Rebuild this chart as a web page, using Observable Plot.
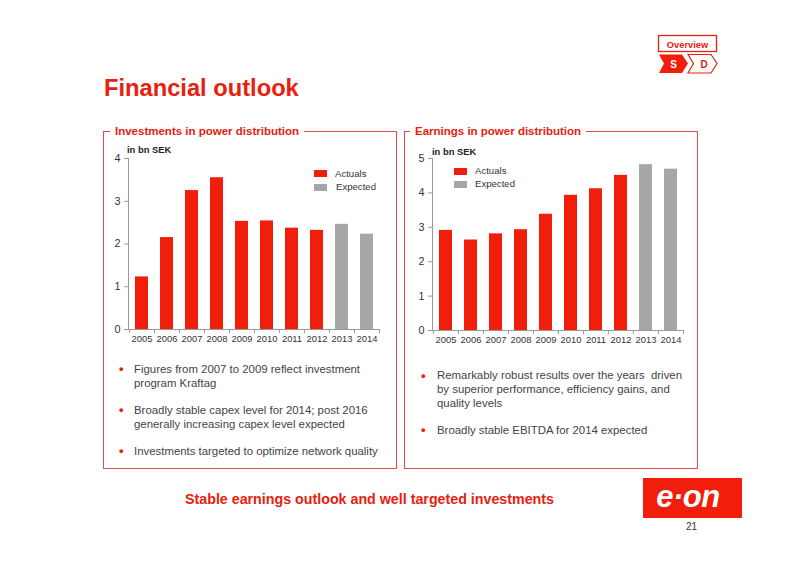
<!DOCTYPE html>
<html><head><meta charset="utf-8">
<script src="https://cdn.jsdelivr.net/npm/d3@7"></script>
<script src="https://cdn.jsdelivr.net/npm/@observablehq/plot@0.6"></script>
<style>
html,body{margin:0;padding:0;background:#fff;width:800px;height:565px;overflow:hidden;font-family:"Liberation Sans",Arial,sans-serif;color:#333}
.a{position:absolute;white-space:nowrap}
.title{left:104px;top:72px;font-size:23.7px;font-weight:bold;color:#e8200e;line-height:32px}
.panel{position:absolute;top:131px;height:336px;border:1px solid #e64a4f;box-sizing:content-box}
.head{top:124px;font-size:11.5px;font-weight:bold;color:#e8200e;background:#fff;padding:0 5px;line-height:15px}
.unit{font-size:9.4px;font-weight:bold;color:#222;line-height:12px}
.sw{position:absolute;width:13px;height:7px}
.lg{font-size:9.6px;line-height:12px;color:#333}
.t{font-size:11.4px;line-height:14px;color:#444}
.b{color:#e8200e;font-size:13px;line-height:14px;font-weight:bold}
.plot{position:absolute}
.plot svg{display:block}
</style></head><body>
<div class="a title">Financial outlook</div>
<svg class="a" style="left:655px;top:32px" width="66" height="44">
 <rect x="3.5" y="3.5" width="58" height="16" fill="#fff" stroke="#e8200e" stroke-width="1.3"/>
 <text x="32.5" y="15.5" text-anchor="middle" font-size="9.3" font-weight="bold" fill="#e8200e" font-family="Liberation Sans">Overview</text>
 <path d="M4 22.5H27L33 31.5L27 41H4L9 31.5Z" fill="#f01e0a"/>
 <path d="M33 22.5H56L62 31.5L56 41H33L38.5 31.5Z" fill="#fff" stroke="#e8200e" stroke-width="1.2"/>
 <text x="18.5" y="35.5" text-anchor="middle" font-size="10" font-weight="bold" fill="#fff" font-family="Liberation Sans">S</text>
 <text x="49" y="35.5" text-anchor="middle" font-size="10" font-weight="bold" fill="#e8200e" font-family="Liberation Sans">D</text>
</svg>
<div class="panel" style="left:103px;width:292px"></div>
<div class="panel" style="left:404px;width:292px"></div>
<div class="a head" style="left:110px">Investments in power distribution</div>
<div class="a head" style="left:410px">Earnings in power distribution</div>
<div class="plot" id="left" style="left:100px;top:140px"></div>
<div class="plot" id="right" style="left:404px;top:140px"></div>
<div class="a unit" style="left:127px;top:144px">in bn SEK</div>
<div class="a unit" style="left:432px;top:146px">in bn SEK</div>
<div class="sw" style="left:314px;top:170px;background:#f01e0a"></div><div class="a lg" style="left:335px;top:168px">Actuals</div>
<div class="sw" style="left:314px;top:184px;background:#a6a6a6"></div><div class="a lg" style="left:336px;top:181px">Expected</div>
<div class="sw" style="left:454px;top:168px;background:#f01e0a"></div><div class="a lg" style="left:475px;top:165px">Actuals</div>
<div class="sw" style="left:454px;top:181px;background:#a6a6a6"></div><div class="a lg" style="left:475px;top:178px">Expected</div>

<div class="a b" style="left:119px;top:362px">•</div>
<div class="a t" style="left:134px;top:362px">Figures from 2007 to 2009 reflect investment<br>program Kraftag</div>
<div class="a b" style="left:119px;top:403px">•</div>
<div class="a t" style="left:134px;top:403px">Broadly stable capex level for 2014; post 2016<br>generally increasing capex level expected</div>
<div class="a b" style="left:119px;top:444px">•</div>
<div class="a t" style="left:134px;top:444px">Investments targeted to optimize network quality</div>

<div class="a b" style="left:421px;top:369px">•</div>
<div class="a t" style="left:437px;top:369px;line-height:13.8px;white-space:pre">Remarkably robust results over the years  driven
by superior performance, efficiency gains, and
quality levels</div>
<div class="a b" style="left:421px;top:423px">•</div>
<div class="a t" style="left:437px;top:423px">Broadly stable EBITDA for 2014 expected</div>

<div class="a" style="left:185px;top:490px;font-size:14.25px;font-weight:bold;color:#e8200e;line-height:18px">Stable earnings outlook and well targeted investments</div>
<svg class="a" style="left:643px;top:478px" width="99" height="40">
 <rect width="99" height="40" fill="#f01e0a"/>
 <text x="45" y="29" text-anchor="middle" font-size="31" font-weight="bold" font-style="italic" fill="#fff" font-family="Liberation Sans" letter-spacing="-0.5">e·on</text>
</svg>
<div class="a" style="left:686px;top:521px;font-size:10px;line-height:12px;color:#333">21</div>

<script>
const years = [2005,2006,2007,2008,2009,2010,2011,2012,2013,2014];
const status = ["Actuals","Actuals","Actuals","Actuals","Actuals","Actuals","Actuals","Actuals","Expected","Expected"];
const investments = [1.23,2.15,3.25,3.55,2.53,2.54,2.37,2.32,2.46,2.23];
const earnings = [2.91,2.63,2.81,2.93,3.38,3.93,4.12,4.51,4.82,4.69];
const yTicksLeft = [0,1,2,3,4];
const yTicksRight = [0,1,2,3,4,5];

function chart(id, values, yTicks, marginLeft, marginRight, plotHeight, marginTop){
  const width = 300, marginBottom = 30;
  const step = (width - marginLeft - marginRight) / years.length;
  const data = years.map((y,i)=>({year:y, value:values[i], status:status[i]}));
  const grey = "#9a9a9a";
  const plot = Plot.plot({
    width, height: plotHeight + marginTop + marginBottom,
    marginLeft, marginRight, marginTop, marginBottom,
    style:{fontFamily:"Liberation Sans, Arial, sans-serif", background:"transparent", color:"#333"},
    x:{type:"band", domain:years, paddingInner:0.5, paddingOuter:0.25, align:0.5, label:null},
    y:{domain:[0, yTicks[yTicks.length-1]], label:null},
    color:{domain:["Actuals","Expected"], range:["#f01e0a","#a6a6a6"]},
    marks:[
      Plot.barY(data,{x:"year", y:"value", fill:"status"}),
      Plot.ruleY([0],{stroke:grey}),
      Plot.axisY({ticks:yTicks, tickSize:4, stroke:grey, tickPadding:4, fontSize:10.8, label:null, fill:"#333", tickFormat:"d"}),
      Plot.axisX({ticks:years, tickSize:4, stroke:grey, text:null, dx:-step/2, label:null}),
      Plot.axisX({ticks:[years[years.length-1]], tickSize:4, stroke:grey, text:null, dx:step/2, label:null}),
      Plot.axisX({ticks:years, tickSize:0, tickPadding:6, tickFormat:d=>String(d), fontSize:9.4, fill:"#333", label:null})
    ]
  });
  document.getElementById(id).appendChild(plot);
  d3.select(plot).append("line").attr("x1",marginLeft+0.5).attr("x2",marginLeft+0.5)
    .attr("y1",marginTop).attr("y2",marginTop+plotHeight).attr("stroke",grey);
}
chart("left", investments, yTicksLeft, 28, 21, 171, 18);
chart("right", earnings, yTicksRight, 28, 20, 172, 18);
</script>
</body></html>
